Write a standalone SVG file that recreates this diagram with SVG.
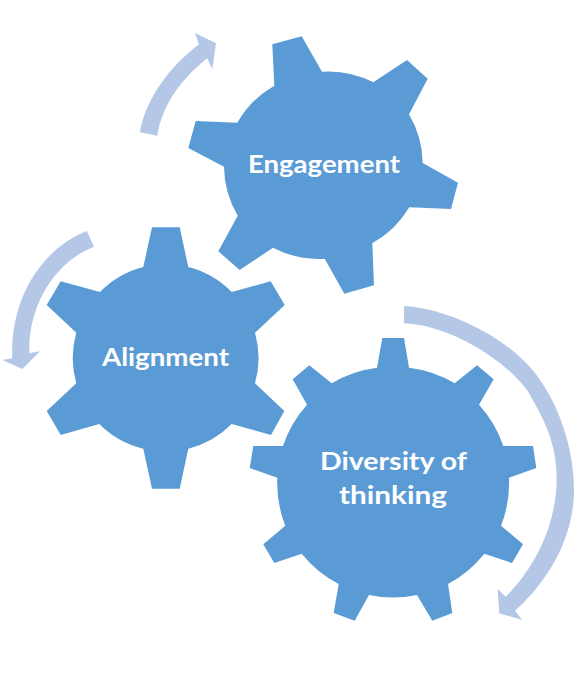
<svg xmlns="http://www.w3.org/2000/svg" width="574" height="686" viewBox="0 0 574 686">
<style>
.gear{fill:#5b9bd5}
.arrow{fill:#b4c7e7}
.label{fill:#fff;font-family:"Lato","Open Sans",sans-serif;font-weight:700;font-size:25px;text-anchor:middle}
</style>
<rect width="574" height="686" fill="#fff"/>
<g id="connectors">
<path class="arrow" d="M140 132.300C145 100 170 66 199 44.300L195 33L216 43.300L212.300 69L207.300 58.300C182 78 162 105 157.300 135.700Z"/>
<path class="arrow" d="M86.700 231C40 250 10 300 12.300 358.300L2.300 360L22.300 369L40 351.300L29.300 353.300C28 305 55 262 94 246.700Z"/>
<path class="arrow" d="M404 306C445 308 505 335 535 373C560 405 574 450 574 490C574 530 555 575 515 610.700L522.300 620L499.300 613.300L497.700 589L505.700 596.700C535 568 556 525 556.700 480C557 445 545 420 527 390C505 360 450 325 404 323.300Z"/>
</g>
<g id="engagement">
<path class="gear" d="M274.300 85.700L272.300 44.300L301.700 36.300L322 71.700A99 99 0 0 1 373.300 82.300L407 60L427.700 78.700L409 114.300A99 99 0 0 1 422.700 163L458 182.700L451 209L409.300 207.300A99 99 0 0 1 372.300 243.300L374 285.300L344.300 293.700L324.700 258.700A99 99 0 0 1 273 247.700L239.700 270L218.300 251.300L237.700 215.700A99 99 0 0 1 224 166.700L188.300 148L195.700 121L237.300 122.700A99 99 0 0 1 274.300 85.700Z"/>
<text class="label" x="324" y="173" textLength="152" lengthAdjust="spacingAndGlyphs">Engagement</text>
</g>
<g id="alignment">
<path class="gear" d="M143.300 267L152 227.300L179.700 227.300L188.300 267A92 92 0 0 1 231.700 292L270.700 281.300L284.700 305L255 332.700A92 92 0 0 1 255 383.300L284.300 411L271 435L231.700 424A92 92 0 0 1 188.300 448.700L179.700 488.700L152 488.700L143.300 448.700A92 92 0 0 1 99.300 424L60.700 435L46.700 411L76.300 383.300A92 92 0 0 1 76.300 332.700L46.700 305L60.700 281.300L100 292A92 92 0 0 1 143.300 267Z"/>
<text class="label" x="165.500" y="365.700" textLength="127" lengthAdjust="spacingAndGlyphs">Alignment</text>
</g>
<g id="diversity">
<path class="gear" d="M377 367.700L382.300 338L404 338L409 367.700A115.700 115.700 0 0 1 454.700 383.300L477 365.300L493.700 379.300L479 404.700A115.700 115.700 0 0 1 503.300 446L533 446L536.300 468L509 477.700A115.700 115.700 0 0 1 501 525.700L523 544.300L512 563L484.300 553.700A115.700 115.700 0 0 1 448 584L452.300 613L432.300 620.700L417 595A115.700 115.700 0 0 1 369 595L354.700 620.700L333.700 613L338.700 584A115.700 115.700 0 0 1 301.700 553.700L274.300 563L263.300 544.300L285.300 525.700A115.700 115.700 0 0 1 277.300 477.700L249.700 468L253.300 446L283 446A115.700 115.700 0 0 1 307 404.700L292.700 379.300L309.300 365.300L331.700 383.300A115.700 115.700 0 0 1 377 367.700Z"/>
<text class="label" x="393.500" y="470" textLength="147" lengthAdjust="spacingAndGlyphs">Diversity of</text>
<text class="label" x="393" y="503.700" textLength="108" lengthAdjust="spacingAndGlyphs">thinking</text>
</g>
</svg>
